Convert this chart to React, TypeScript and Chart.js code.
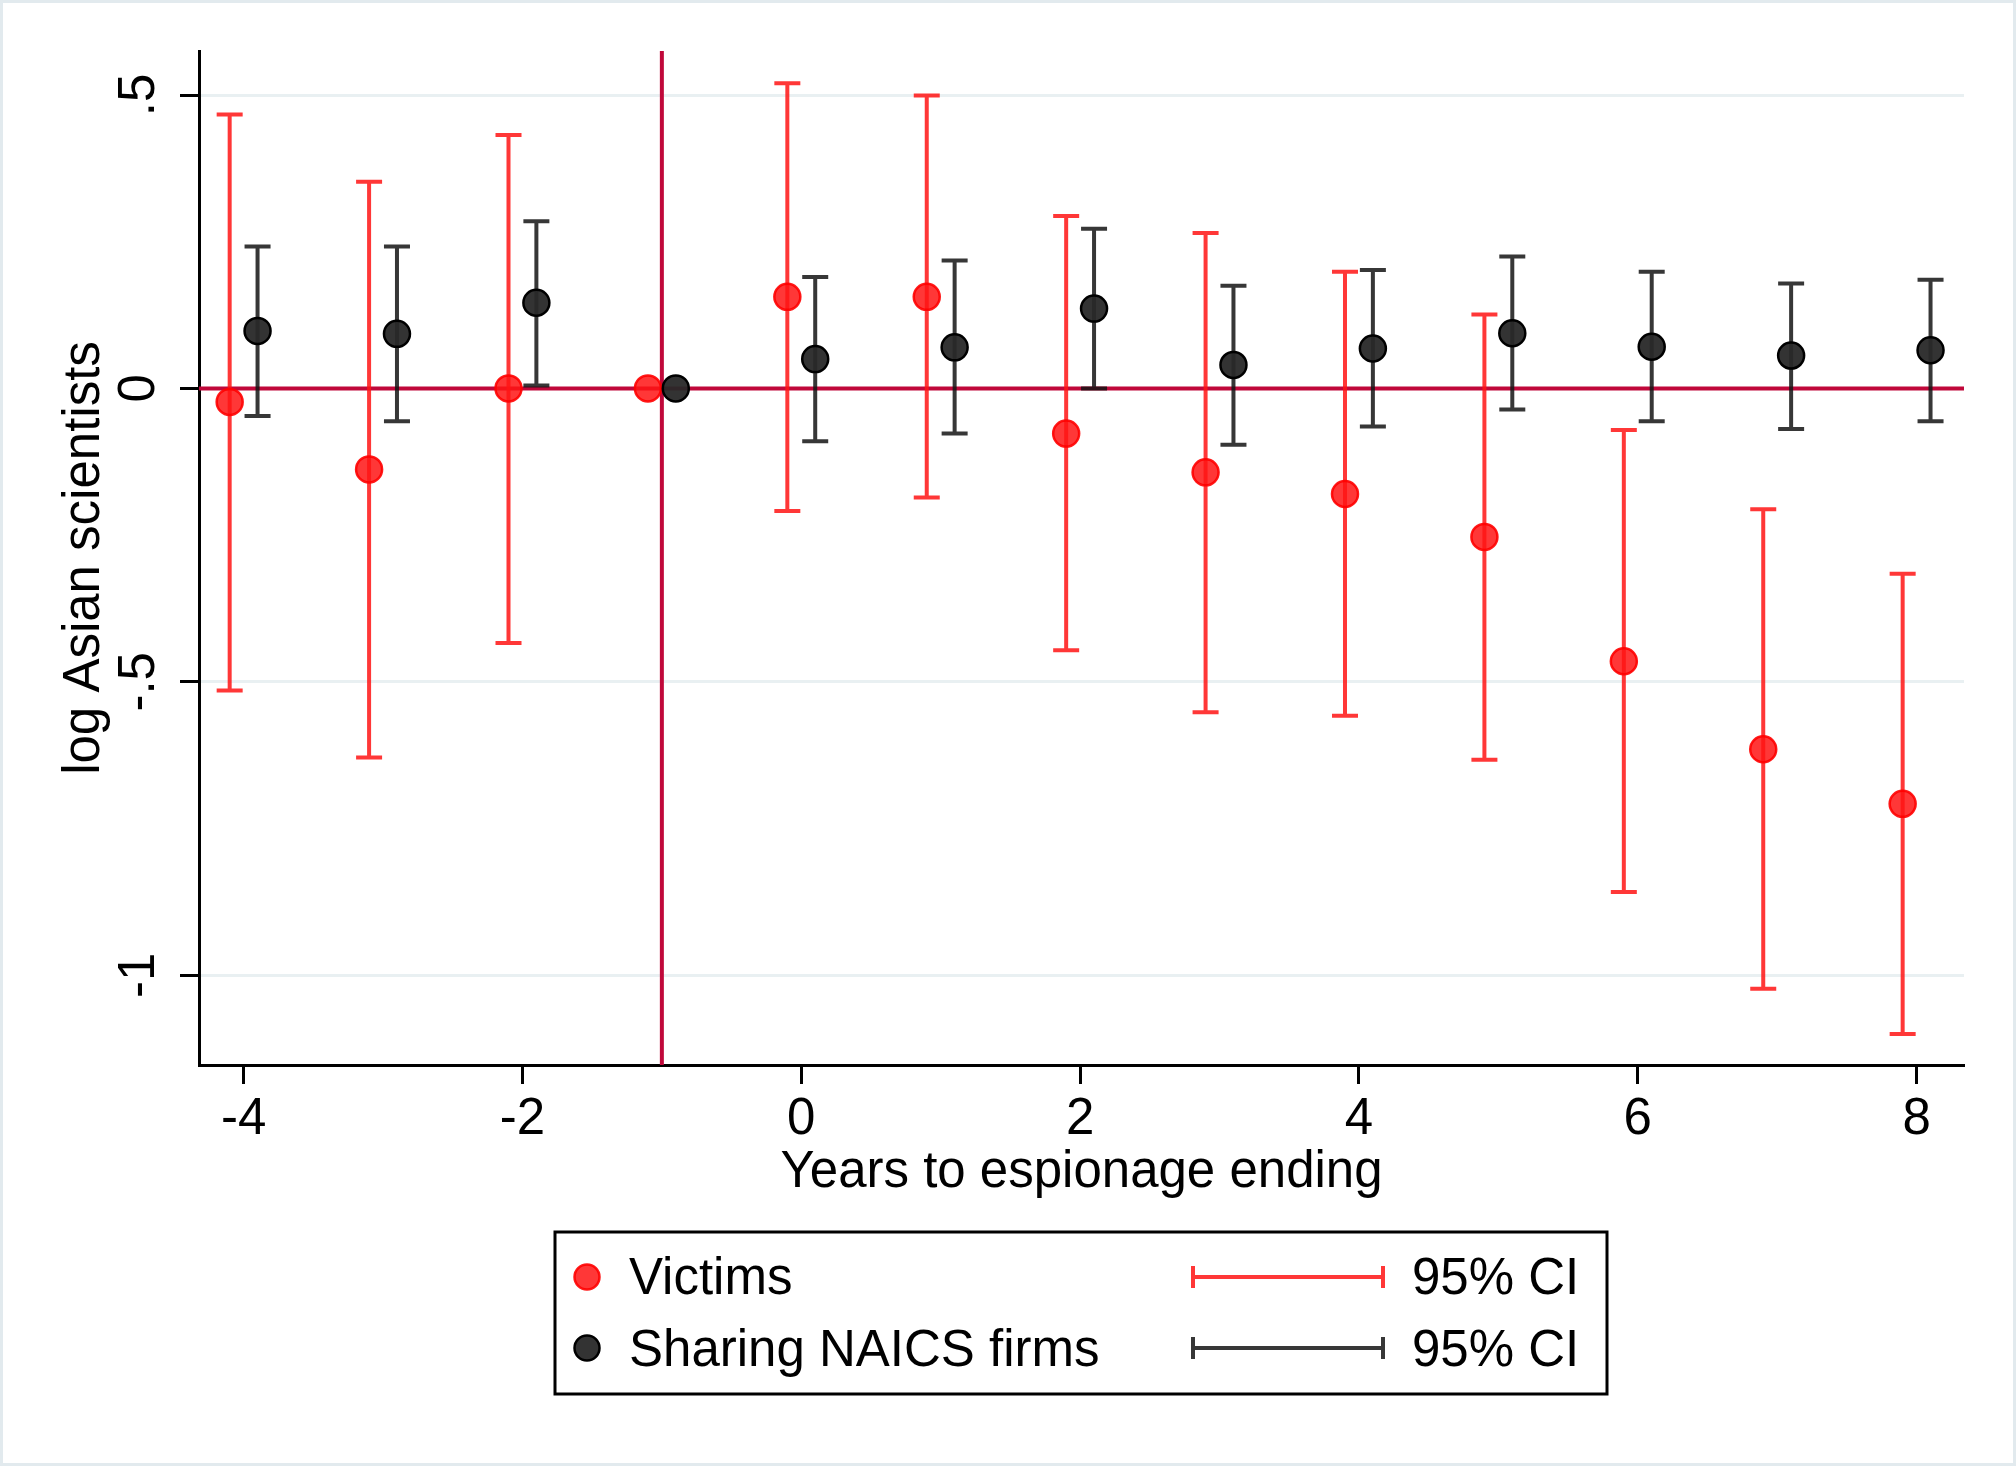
import React, { useEffect, useRef } from 'react';
import { Chart, registerables } from 'chart.js';

Chart.register(...registerables);

// event time (years to espionage ending)
const years = [-4, -3, -2, -1, 0, 1, 2, 3, 4, 5, 6, 7, 8];
const dodge = 0.1;

// victims: point estimates and 95% CI
const victimEst = [-0.023, -0.138, 0, 0, 0.156, 0.156, -0.077, -0.143, -0.18, -0.253, -0.465, -0.615, -0.708];
const victimLo = [-0.515, -0.629, -0.434, null, -0.209, -0.186, -0.446, -0.552, -0.558, -0.633, -0.858, -1.023, -1.1];
const victimHi = [0.467, 0.352, 0.432, null, 0.52, 0.499, 0.294, 0.265, 0.199, 0.126, -0.071, -0.206, -0.316];

// sharing NAICS firms: point estimates and 95% CI
const naicsEst = [0.098, 0.093, 0.146, 0, 0.05, 0.07, 0.136, 0.04, 0.068, 0.094, 0.071, 0.056, 0.065];
const naicsLo = [-0.047, -0.056, 0.005, null, -0.09, -0.077, 0, -0.096, -0.065, -0.036, -0.056, -0.069, -0.056];
const naicsHi = [0.242, 0.242, 0.285, null, 0.19, 0.218, 0.272, 0.175, 0.202, 0.225, 0.199, 0.179, 0.185];

const xTicks = [-4, -2, 0, 2, 4, 6, 8];
const yTicks = [-1, -0.5, 0, 0.5];
const yTickLabels = ['-1', '-.5', '0', '.5'];

const FONT = '"Liberation Sans", Arial, Helvetica, sans-serif';
const FONT_SIZE = 51;
const RED_FILL = 'rgba(255, 20, 20, 0.85)';
const RED_EDGE = 'rgba(255, 0, 0, 0.9)';
const RED_LINE = 'rgba(255, 20, 20, 0.85)';
const DARK_FILL = 'rgba(40, 40, 40, 0.95)';
const DARK_EDGE = '#000';
const DARK_LINE = 'rgba(20, 20, 20, 0.85)';
const REF = '#c0083a';

const stataPlugin = {
  id: 'stataExtras',
  beforeDraw(chart: any) {
    const { ctx, width, height } = chart;
    ctx.save();
    ctx.fillStyle = '#fff';
    ctx.fillRect(0, 0, width, height);
    ctx.strokeStyle = '#e2eaee';
    ctx.lineWidth = 3;
    ctx.strokeRect(1.5, 1.5, width - 3, height - 3);
    ctx.restore();
  },
  beforeDatasetsDraw(chart: any) {
    const { ctx, chartArea, scales } = chart;
    const x = scales.x;
    const y = scales.y;
    ctx.save();

    // reference lines at 0 and -1
    ctx.strokeStyle = REF;
    ctx.lineWidth = 4;
    const y0 = y.getPixelForValue(0);
    ctx.beginPath();
    ctx.moveTo(chartArea.left, y0);
    ctx.lineTo(chartArea.right, y0);
    ctx.stroke();
    const xr = x.getPixelForValue(-1);
    ctx.beginPath();
    ctx.moveTo(xr, chartArea.top);
    ctx.lineTo(xr, chartArea.bottom);
    ctx.stroke();

    // confidence intervals
    const drawCI = (shift: number, lo: (number | null)[], hi: (number | null)[], color: string) => {
      ctx.strokeStyle = color;
      ctx.lineWidth = 4;
      ctx.lineCap = 'butt';
      years.forEach((t, i) => {
        const l = lo[i];
        const h = hi[i];
        if (l === null || h === null) return;
        const px = x.getPixelForValue(t + shift);
        const pl = y.getPixelForValue(l);
        const ph = y.getPixelForValue(h);
        ctx.beginPath();
        ctx.moveTo(px, pl);
        ctx.lineTo(px, ph);
        ctx.moveTo(px - 13, pl);
        ctx.lineTo(px + 13, pl);
        ctx.moveTo(px - 13, ph);
        ctx.lineTo(px + 13, ph);
        ctx.stroke();
      });
    };
    drawCI(-dodge, victimLo, victimHi, RED_LINE);
    drawCI(dodge, naicsLo, naicsHi, DARK_LINE);
    ctx.restore();
  },
  afterDraw(chart: any) {
    const { ctx, scales } = chart;
    const y = scales.y;
    ctx.save();
    ctx.fillStyle = '#000';
    ctx.font = `${FONT_SIZE}px ${FONT}`;
    ctx.textAlign = 'center';
    ctx.textBaseline = 'middle';

    // rotated y tick labels
    yTicks.forEach((v, i) => {
      ctx.save();
      ctx.translate(140, y.getPixelForValue(v));
      ctx.rotate(-Math.PI / 2);
      ctx.fillText(yTickLabels[i], 0, 0);
      ctx.restore();
    });

    // legend
    ctx.strokeStyle = '#000';
    ctx.lineWidth = 3;
    ctx.strokeRect(555, 1232, 1052, 162);

    const rows = [
      { y: 1277, ty: 1280, label: 'Victims', fill: RED_FILL, edge: RED_EDGE, line: RED_LINE },
      { y: 1348, ty: 1352, label: 'Sharing NAICS firms', fill: DARK_FILL, edge: DARK_EDGE, line: DARK_LINE },
    ];
    rows.forEach((r) => {
      ctx.beginPath();
      ctx.arc(587, r.y, 12.5, 0, Math.PI * 2);
      ctx.fillStyle = r.fill;
      ctx.fill();
      ctx.lineWidth = 2.5;
      ctx.strokeStyle = r.edge;
      ctx.stroke();

      ctx.strokeStyle = r.line;
      ctx.lineWidth = 4;
      ctx.beginPath();
      ctx.moveTo(1193, r.y);
      ctx.lineTo(1383, r.y);
      ctx.moveTo(1193, r.y - 11);
      ctx.lineTo(1193, r.y + 11);
      ctx.moveTo(1383, r.y - 11);
      ctx.lineTo(1383, r.y + 11);
      ctx.stroke();

      ctx.fillStyle = '#000';
      ctx.textAlign = 'left';
      ctx.fillText(r.label, 629, r.ty);
      ctx.fillText('95% CI', 1412, r.ty);
    });
    ctx.restore();
  },
};

export default function App() {
  const canvasRef = useRef<HTMLCanvasElement>(null);
  const chartRef = useRef<Chart | null>(null);

  useEffect(() => {
    if (!canvasRef.current) return;
    if (chartRef.current) chartRef.current.destroy();

    const ctx = canvasRef.current.getContext('2d');
    if (!ctx) return;

    const axisFont = { family: FONT, size: FONT_SIZE, lineHeight: 1.2 };

    chartRef.current = new Chart(ctx, {
      type: 'scatter',
      data: {
        datasets: [
          {
            label: 'Victims',
            data: years.map((t, i) => ({ x: t - dodge, y: victimEst[i] })),
            pointRadius: 13,
            pointBackgroundColor: RED_FILL,
            pointBorderColor: RED_EDGE,
            pointBorderWidth: 2.5,
            showLine: false,
            order: 2,
          },
          {
            label: 'Sharing NAICS firms',
            data: years.map((t, i) => ({ x: t + dodge, y: naicsEst[i] })),
            pointRadius: 13,
            pointBackgroundColor: DARK_FILL,
            pointBorderColor: DARK_EDGE,
            pointBorderWidth: 2.5,
            showLine: false,
            order: 1,
          },
        ],
      },
      options: {
        animation: false,
        responsive: false,
        devicePixelRatio: 1,
        layout: { padding: { top: 51, right: 52, left: 0, bottom: 0 } },
        plugins: {
          legend: { display: false },
          tooltip: { enabled: false },
        },
        scales: {
          x: {
            type: 'linear',
            min: -4.32,
            max: 8.34,
            afterBuildTicks: (s: any) => {
              s.ticks = xTicks.map((value) => ({ value }));
            },
            afterFit: (s: any) => {
              s.height = 401;
            },
            ticks: {
              font: axisFont,
              color: '#000',
              padding: 5,
              maxRotation: 0,
              autoSkip: false,
              callback: (v: any) => String(v),
            },
            grid: { drawOnChartArea: false, tickLength: 19, tickColor: '#000', tickWidth: 3 },
            border: { color: '#000', width: 3 },
            title: {
              display: true,
              text: 'Years to espionage ending',
              font: axisFont,
              color: '#000',
              padding: { top: 0, bottom: 262 },
            },
          },
          y: {
            type: 'linear',
            min: -1.153,
            max: 0.575,
            afterBuildTicks: (s: any) => {
              s.ticks = yTicks.map((value) => ({ value }));
            },
            afterFit: (s: any) => {
              s.width = 199;
            },
            ticks: { display: false },
            grid: {
              color: (c: any) => (c.tick && c.tick.value === 0 ? 'rgba(0,0,0,0)' : '#e9f0f2'),
              lineWidth: 3,
              tickLength: 19,
              tickColor: '#000',
              tickWidth: 3,
            },
            border: { color: '#000', width: 3 },
            title: {
              display: true,
              text: 'log Asian scientists',
              font: axisFont,
              color: '#000',
              padding: { top: 54, bottom: 0 },
            },
          },
        },
      },
      plugins: [stataPlugin],
    });

    return () => {
      if (chartRef.current) {
        chartRef.current.destroy();
        chartRef.current = null;
      }
    };
  }, []);

  return (
    <div style={{ position: 'fixed', left: 0, top: 0, width: 2016, height: 1466, background: '#fff' }}>
      <canvas ref={canvasRef} width={2016} height={1466} style={{ width: 2016, height: 1466, display: 'block' }} />
    </div>
  );
}
